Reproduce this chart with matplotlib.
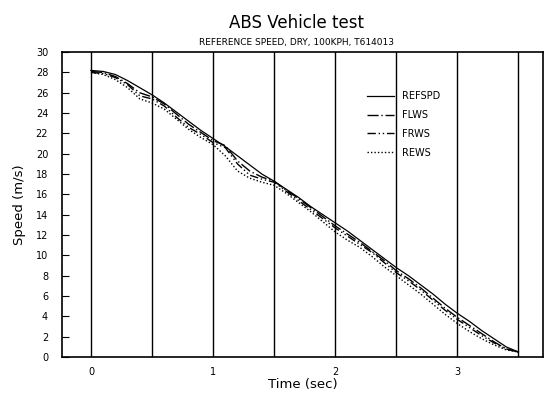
import numpy as np
import matplotlib
matplotlib.use('Agg')
import matplotlib.pyplot as plt

# time base (sec)
time = [0.0, 0.1, 0.2, 0.3, 0.4, 0.5, 0.6, 0.7, 0.8, 0.9,
        1.0, 1.1, 1.2, 1.3, 1.4, 1.5, 1.6, 1.7, 1.8, 1.9,
        2.0, 2.1, 2.2, 2.3, 2.4, 2.5, 2.6, 2.7, 2.8, 2.9,
        3.0, 3.1, 3.2, 3.3, 3.4, 3.5]

# speeds (m/s)
refspd = [28.2, 28.1, 27.8, 27.2, 26.5, 25.8, 25.0, 24.1, 23.2, 22.3,
          21.5, 20.7, 19.8, 18.9, 18.0, 17.3, 16.5, 15.7, 14.8, 14.0,
          13.2, 12.4, 11.5, 10.6, 9.7, 8.8, 8.0, 7.1, 6.2, 5.2,
          4.3, 3.5, 2.6, 1.8, 1.0, 0.5]
flws = [28.1, 28.0, 27.6, 26.9, 26.0, 25.6, 24.9, 23.9, 22.9, 22.1,
        21.3, 20.8, 19.3, 18.3, 17.7, 17.3, 16.4, 15.6, 14.7, 13.8,
        12.9, 12.1, 11.3, 10.4, 9.5, 8.5, 7.7, 6.8, 5.8, 4.8,
        3.9, 3.1, 2.3, 1.5, 0.8, 0.5]
frws = [28.0, 27.9, 27.5, 26.8, 25.7, 25.4, 24.7, 23.6, 22.6, 21.9,
        21.1, 20.6, 19.0, 17.9, 17.5, 17.2, 16.3, 15.4, 14.5, 13.6,
        12.7, 11.9, 11.1, 10.3, 9.3, 8.3, 7.5, 6.6, 5.6, 4.6,
        3.7, 2.9, 2.1, 1.4, 0.8, 0.5]
rews = [28.0, 27.8, 27.3, 26.5, 25.4, 25.0, 24.4, 23.4, 22.4, 21.6,
        20.9, 19.8, 18.3, 17.6, 17.2, 16.9, 16.1, 15.2, 14.3, 13.3,
        12.3, 11.5, 10.8, 9.9, 8.9, 8.0, 7.1, 6.2, 5.2, 4.2,
        3.3, 2.5, 1.8, 1.2, 0.7, 0.5]

fig = plt.figure(figsize=(5.44, 3.95), dpi=100)
ax = fig.add_axes([0.114, 0.096, 0.884, 0.772])

ax.plot(time, refspd, color='black', lw=0.9, label='REFSPD')
ax.plot(time, flws, color='black', lw=1.0, ls=(0, (8, 2, 1, 2)), label='FLWS')
ax.plot(time, frws, color='black', lw=1.0, ls=(0, (6, 2, 1, 2, 1, 2)), label='FRWS')
ax.plot(time, rews, color='black', lw=1.0, ls=(0, (1, 1.5)), label='REWS')

ax.set_xlim(-0.237, 3.70)
ax.set_ylim(0, 30)
ax.set_xticks([0, 1, 2, 3])
ax.set_xticks(np.arange(0.5, 3.6, 1.0), minor=True)
ax.set_yticks(np.arange(0, 31, 2))
ax.grid(True, which='both', axis='x', color='black', lw=1.0)
ax.tick_params(axis='x', which='both', length=0, labelsize=7, pad=7)
ax.tick_params(axis='y', direction='in', length=5, labelsize=7, pad=10)
for s in ax.spines.values():
    s.set_linewidth(1.2)

ax.set_xlabel('Time (sec)', fontsize=9.5, labelpad=1)
ax.set_ylabel('Speed (m/s)', fontsize=9.5, labelpad=7)
fig.text(0.545, 0.93, 'ABS Vehicle test', ha='center', fontsize=12)
fig.text(0.545, 0.885, 'REFERENCE SPEED, DRY, 100KPH, T614013', ha='center', fontsize=6.5)

ax.legend(loc='upper left', bbox_to_anchor=(0.615, 0.9), frameon=False,
          fontsize=7, handlelength=2.8, labelspacing=0.9, handletextpad=0.9)

fig.savefig('out.png', dpi=100)
